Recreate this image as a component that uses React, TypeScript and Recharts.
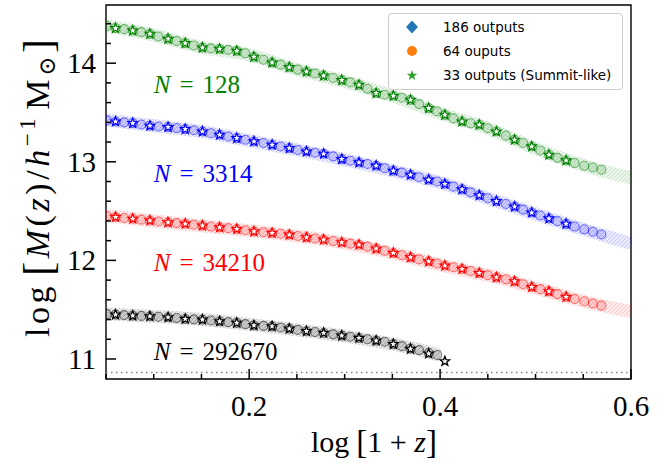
import React from "react";
import { ComposedChart, XAxis, YAxis, Line, Scatter, ReferenceLine, ReferenceArea } from "recharts";

// x = log(1+z) of the 64-output snapshots (circles) inside the plotted range
const circleX = [
  0.051, 0.06, 0.069, 0.078, 0.087, 0.096, 0.105, 0.115, 0.124, 0.133,
  0.142, 0.151, 0.16, 0.169, 0.178, 0.187, 0.196, 0.205, 0.215, 0.224,
  0.233, 0.242, 0.251, 0.26, 0.269, 0.278, 0.288, 0.297, 0.306, 0.315,
  0.324, 0.333, 0.342, 0.351, 0.36, 0.369, 0.378, 0.388, 0.397, 0.405,
  0.414, 0.423, 0.432, 0.441, 0.45, 0.459, 0.469, 0.478, 0.487, 0.496,
  0.505, 0.514, 0.523, 0.532, 0.541, 0.551, 0.56, 0.569,
];
// x of the 33-output (Summit-like) snapshots
const starX = [
  0.06, 0.078, 0.096, 0.115, 0.133, 0.151, 0.169, 0.187, 0.205, 0.224,
  0.242, 0.26, 0.278, 0.297, 0.315, 0.333, 0.351, 0.369, 0.388, 0.405,
  0.423, 0.441, 0.459, 0.478, 0.496, 0.514, 0.532,
];
// 186-output runs, drawn as a hatched band
const bandX = [0.05, 0.1, 0.15, 0.2, 0.25, 0.3, 0.35, 0.4, 0.45, 0.5, 0.55, 0.6];
const blackBandX = [0.05, 0.1, 0.15, 0.2, 0.25, 0.3, 0.35, 0.38, 0.4];

const greenCircles = [
  14.378, 14.355, 14.345, 14.33, 14.315, 14.297, 14.27, 14.246, 14.225, 14.203,
  14.18, 14.158, 14.15, 14.145, 14.135, 14.125, 14.1, 14.064, 14.035, 14.006,
  13.985, 13.959, 13.935, 13.915, 13.895, 13.874, 13.85, 13.828, 13.805, 13.78,
  13.74, 13.696, 13.68, 13.669, 13.65, 13.628, 13.585, 13.544, 13.51, 13.476,
  13.44, 13.408, 13.39, 13.375, 13.34, 13.307, 13.265, 13.223, 13.19, 13.155,
  13.115, 13.071, 13.04, 13.013, 12.987, 12.959, 12.942, 12.919,
];
const greenStars = [
  14.355, 14.33, 14.297, 14.246, 14.203, 14.158, 14.145, 14.125, 14.064, 14.006,
  13.959, 13.915, 13.874, 13.828, 13.78, 13.696, 13.669, 13.628, 13.544, 13.476,
  13.408, 13.375, 13.307, 13.223, 13.155, 13.071, 13.013,
];
const greenBand = [14.38, 14.285, 14.16, 14.085, 13.935, 13.815, 13.67, 13.49, 13.34, 13.135, 12.965, 12.835];

const blueCircles = [
  13.42, 13.408, 13.4, 13.392, 13.378, 13.365, 13.358, 13.352, 13.342, 13.331,
  13.32, 13.307, 13.29, 13.274, 13.257, 13.24, 13.223, 13.206, 13.19, 13.172,
  13.155, 13.139, 13.12, 13.104, 13.092, 13.081, 13.055, 13.027, 13.01, 12.993,
  12.977, 12.96, 12.935, 12.909, 12.89, 12.868, 12.843, 12.818, 12.8, 12.775,
  12.748, 12.72, 12.69, 12.66, 12.63, 12.6, 12.572, 12.545, 12.515, 12.485,
  12.455, 12.425, 12.398, 12.37, 12.343, 12.315, 12.29, 12.262,
];
const blueStars = [
  13.408, 13.392, 13.365, 13.352, 13.331, 13.307, 13.274, 13.24, 13.206, 13.172,
  13.139, 13.104, 13.081, 13.027, 12.993, 12.96, 12.909, 12.868, 12.818, 12.775,
  12.72, 12.66, 12.6, 12.545, 12.485, 12.425, 12.37,
];
const blueBand = [13.425, 13.365, 13.307, 13.214, 13.12, 13.02, 12.909, 12.79, 12.63, 12.47, 12.315, 12.17];

const redCircles = [
  12.45, 12.44, 12.43, 12.422, 12.413, 12.405, 12.395, 12.385, 12.378, 12.372,
  12.362, 12.352, 12.343, 12.335, 12.327, 12.318, 12.306, 12.294, 12.286, 12.278,
  12.27, 12.26, 12.247, 12.233, 12.222, 12.21, 12.196, 12.182, 12.17, 12.159,
  12.14, 12.119, 12.097, 12.075, 12.052, 12.03, 12.01, 11.99, 11.968, 11.946,
  11.93, 11.913, 11.893, 11.872, 11.85, 11.828, 11.808, 11.787, 11.758, 11.73,
  11.708, 11.686, 11.658, 11.629, 11.608, 11.586, 11.563, 11.541,
];
const redStars = [
  12.44, 12.422, 12.405, 12.385, 12.372, 12.352, 12.335, 12.318, 12.294, 12.278,
  12.26, 12.233, 12.21, 12.182, 12.159, 12.119, 12.075, 12.03, 11.99, 11.946,
  11.913, 11.872, 11.828, 11.787, 11.73, 11.686, 11.629,
];
const redBand = [12.455, 12.4, 12.352, 12.3, 12.247, 12.175, 12.075, 11.955, 11.85, 11.72, 11.586, 11.48];

const blackCircles = [
  11.455, 11.45, 11.445, 11.44, 11.437, 11.433, 11.428, 11.423, 11.415, 11.406,
  11.402, 11.399, 11.39, 11.382, 11.374, 11.366, 11.354, 11.341, 11.336, 11.331,
  11.32, 11.308, 11.295, 11.282, 11.273, 11.264, 11.25, 11.237, 11.225, 11.213,
  11.2, 11.186, 11.175, 11.151, 11.13, 11.105, 11.09, 11.063, 11.04,
];
const blackStars = [
  11.45, 11.44, 11.433, 11.423, 11.406, 11.399, 11.382, 11.366, 11.341, 11.331,
  11.308, 11.282, 11.264, 11.237, 11.213, 11.186, 11.151, 11.102, 11.055, 10.977,
];
const blackBand = [11.458, 11.432, 11.4, 11.35, 11.295, 11.232, 11.15, 11.09, 11.035];

const xTicks = [0.05, 0.1, 0.15, 0.2, 0.25, 0.3, 0.35, 0.4, 0.45, 0.5, 0.55, 0.6];
const xMajor = [0.2, 0.4, 0.6];
const yTicks = [11, 11.2, 11.4, 11.6, 11.8, 12, 12.2, 12.4, 12.6, 12.8, 13, 13.2, 13.4, 13.6, 13.8, 14, 14.2, 14.4];
const resolutionLimit = 10.864;

const legendItems = ["186 outputs", "64 ouputs", "33 outputs (Summit-like)"];

const pts = (xs: number[], ys: number[]) => ys.map((y, i) => ({ x: xs[i], y }));

const groups = [
  { n: "128", color: "#008000", id: "g", circles: greenCircles, stars: greenStars, bx: bandX, band: greenBand, labelY: 13.696 },
  { n: "3314", color: "#0000ff", id: "b", circles: blueCircles, stars: blueStars, bx: bandX, band: blueBand, labelY: 12.79 },
  { n: "34210", color: "#ff0000", id: "r", circles: redCircles, stars: redStars, bx: bandX, band: redBand, labelY: 11.889 },
  { n: "292670", color: "#000000", id: "k", circles: blackCircles, stars: blackStars, bx: blackBandX, band: blackBand, labelY: 10.994 },
];

const SERIF = "'Liberation Serif', 'DejaVu Serif', serif";

function starPath(cx: number, cy: number, R: number, r: number) {
  let d = "";
  for (let i = 0; i < 10; i++) {
    const a = -Math.PI / 2 + (i * Math.PI) / 5;
    const rr = i % 2 === 0 ? R : r;
    d += (i === 0 ? "M" : "L") + (cx + rr * Math.cos(a)).toFixed(2) + "," + (cy + rr * Math.sin(a)).toFixed(2);
  }
  return d + "Z";
}

const starShape = (color: string) => (p: any) => (
  <path d={starPath(p.cx, p.cy, 5.0, 2.1)} fill="#fff" stroke={color} strokeWidth={1.3} strokeLinejoin="miter" />
);

const circleShape = (color: string) => (p: any) => (
  <circle cx={p.cx} cy={p.cy} r={4.5} fill={color} fillOpacity={0.14} stroke={color} strokeOpacity={0.5} strokeWidth={1.1} />
);

const nLabel = (color: string, n: string) => (p: any) => (
  <text x={p.cx} y={p.cy} fontFamily={SERIF} fontSize={25} fill={color}>
    <tspan fontStyle="italic">N</tspan>
    <tspan dx={9}>=</tspan>
    <tspan dx={9}>{n}</tspan>
  </text>
);

const XTick = (p: any) => {
  const v = p.payload.value;
  const major = xMajor.some((m) => Math.abs(m - v) < 1e-6);
  return (
    <g>
      <line x1={p.x} x2={p.x} y1={p.y} y2={p.y - (major ? 10 : 5)} stroke="#000" strokeWidth={1.5} />
      {major && (
        <text x={p.x} y={p.y + 37} textAnchor="middle" fontFamily={SERIF} fontSize={29} fill="#000">
          {v.toFixed(1)}
        </text>
      )}
    </g>
  );
};

const YTick = (p: any) => {
  const v = p.payload.value;
  const major = Math.abs(v - Math.round(v)) < 1e-6;
  return (
    <g>
      <line x1={p.x} x2={p.x + (major ? 10 : 5)} y1={p.y} y2={p.y} stroke="#000" strokeWidth={1.5} />
      {major && (
        <text x={p.x - 10} y={p.y + 10} textAnchor="end" fontFamily={SERIF} fontSize={29} fill="#000">
          {Math.round(v)}
        </text>
      )}
    </g>
  );
};

export default function App() {
  return (
    <div style={{ position: "absolute", left: 0, top: 0, width: 670, height: 463, background: "#fff" }}>
      <svg width={0} height={0} style={{ position: "absolute" }}>
        <defs>
          {groups.map((g) => (
            <pattern key={g.id} id={`hatch-${g.id}`} patternUnits="userSpaceOnUse" width={4} height={4}>
              <rect width={4} height={4} fill={g.color} fillOpacity={0.08} />
              <path d="M-1,1 l2,-2 M0,4 l4,-4 M3,5 l2,-2" stroke={g.color} strokeOpacity={0.17} strokeWidth={0.9} />
            </pattern>
          ))}
        </defs>
      </svg>
      <ComposedChart width={670} height={463} margin={{ top: 5, right: 39, bottom: 83, left: 105 }}>
        <XAxis
          type="number"
          dataKey="x"
          domain={[0.05, 0.6]}
          allowDataOverflow
          ticks={xTicks}
          interval={0}
          tickSize={0}
          tickMargin={0}
          tick={<XTick />}
          axisLine={false}
          height={1}
        />
        <YAxis
          type="number"
          dataKey="y"
          domain={[10.797, 14.59]}
          allowDataOverflow
          ticks={yTicks}
          interval={0}
          tickSize={0}
          tickMargin={0}
          tick={<YTick />}
          axisLine={false}
          width={1}
        />
        <ReferenceLine y={resolutionLimit} stroke="#808080" strokeWidth={1.5} strokeDasharray="1.5 3.5" />
        {groups.map((g) => (
          <Line
            key={"band-" + g.id}
            data={pts(g.bx, g.band)}
            dataKey="y"
            type="monotone"
            stroke={`url(#hatch-${g.id})`}
            strokeWidth={13}
            dot={false}
            activeDot={false}
            isAnimationActive={false}
          />
        ))}
        {groups.map((g) => (
          <Scatter
            key={"c-" + g.id}
            data={pts(circleX, g.circles)}
            dataKey="y"
            shape={circleShape(g.color)}
            isAnimationActive={false}
          />
        ))}
        {groups.map((g) => (
          <Scatter
            key={"s-" + g.id}
            data={pts(starX, g.stars)}
            dataKey="y"
            shape={starShape(g.color)}
            isAnimationActive={false}
          />
        ))}
        {groups.map((g) => (
          <Scatter
            key={"n-" + g.id}
            data={[{ x: 0.1, y: g.labelY }]}
            dataKey="y"
            shape={nLabel(g.color, g.n)}
            isAnimationActive={false}
          />
        ))}
        <ReferenceArea x1={0.05} x2={0.6} y1={10.797} y2={14.59} fill="none" stroke="#000" strokeWidth={1.4} />
      </ComposedChart>
      <svg width={670} height={463} style={{ position: "absolute", left: 0, top: 0, pointerEvents: "none" }}>
        <text x={374} y={452} textAnchor="middle" fontFamily={SERIF} fontSize={30} fill="#000">
          log<tspan dx={7} fontSize={33} dy={1}>[</tspan>
          <tspan dy={-1}>1 + </tspan>
          <tspan fontStyle="italic">z</tspan>
          <tspan fontSize={33} dy={1}>]</tspan>
        </text>
        <text
          transform="translate(49,188) rotate(-90)"
          textAnchor="middle"
          fontFamily={SERIF}
          fontSize={34}
          fill="#000"
          textLength={298}
          lengthAdjust="spacing"
        >
          log<tspan dx={7} fontSize={42} dy={3}>[</tspan>
          <tspan dy={-3} fontStyle="italic">M</tspan>
          <tspan>(</tspan>
          <tspan fontStyle="italic">z</tspan>
          <tspan>)/</tspan>
          <tspan fontStyle="italic">h</tspan>
          <tspan fontSize={23} dy={-14}>−1</tspan>
          <tspan dy={14} dx={5}>M</tspan>
          <tspan fontSize={23} dy={6}>⊙</tspan>
          <tspan fontSize={42} dy={-3}>]</tspan>
        </text>
      </svg>
      <div
        style={{
          position: "absolute",
          left: 388,
          top: 13,
          width: 235,
          height: 77,
          boxSizing: "border-box",
          border: "1px solid #cccccc",
          borderRadius: 4,
          background: "rgba(255,255,255,0.8)",
        }}
      >
        <svg width={235} height={77} style={{ position: "absolute", left: -1, top: -1 }}>
          <polygon points="24,7.5 30,14 24,20.5 18,14" fill="#1f77b4" />
          <circle cx={24} cy={38} r={5} fill="#ff7f0e" />
          <path d={starPath(24, 62.5, 5.5, 2.2)} fill="#2ca02c" />
          {legendItems.map((t, i) => (
            <text key={t} x={55} y={19 + i * 24} fontFamily="'DejaVu Sans', sans-serif" fontSize={13.5} fill="#000">
              {t}
            </text>
          ))}
        </svg>
      </div>
    </div>
  );
}
